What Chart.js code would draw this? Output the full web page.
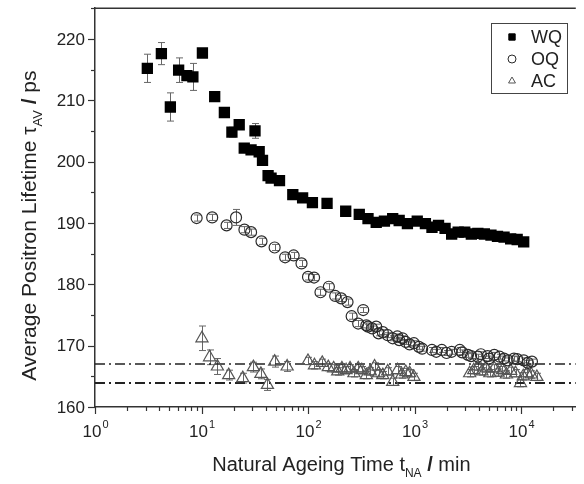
<!DOCTYPE html>
<html>
<head>
<meta charset="utf-8">
<title>Average positron lifetime vs natural ageing time</title>
<script src="https://cdn.jsdelivr.net/npm/chart.js@4.4.1/dist/chart.umd.min.js"></script>
<style>
  html, body { margin: 0; padding: 0; background: #fff; }
</style>
</head>
<body>
<canvas id="grafico" width="584" height="484"></canvas>
<script>
// Series names
const seriesNames = ['WQ', 'OQ', 'AC'];

// Water quenched (t in min, lifetime in ps)
const wqTime = [3.1, 4.2, 5.1, 6.1, 7.3, 8.3, 10.2, 13.3, 16.4, 19.3,
    22.6, 25.2, 29.2, 31.8, 34.8, 37.4, 42.2, 45, 54, 72,
    89, 110, 151, 226, 303, 366, 437, 522, 624, 718,
    858, 1061, 1266, 1459, 1681, 1937, 2233, 2571, 2963, 3418,
    3935, 4531, 5224, 6014, 6935, 7998, 9204, 10600];
const wqLifetime = [215.2, 217.6, 208.9, 214.9, 214.0, 213.8, 217.7, 210.6, 208.0, 204.8,
    206.0, 202.2, 201.9, 205.0, 201.6, 200.2, 197.7, 197.3, 196.9, 194.6,
    194.1, 193.3, 193.2, 191.9, 191.4, 190.7, 190.1, 190.3, 190.7, 190.4,
    189.9, 190.3, 189.9, 189.3, 189.6, 189.1, 188.2, 188.5, 188.5, 188.2,
    188.3, 188.2, 188.0, 187.8, 187.7, 187.4, 187.3, 186.9];
const wqError = [2.3, 1.8, 2.3, 2.0, 0, 2.2, 0, 0, 0, 0.8,
    0, 0, 0, 1.2, 0, 0, 0, 0, 0, 0,
    0, 0, 0, 0, 0, 0, 0, 0, 0, 0,
    0, 0, 0, 0, 0, 0, 0, 0, 0, 0,
    0, 0, 0, 0, 0, 0, 0, 0];

// Oil quenched
const oqTime = [9.0, 12.6, 17.2, 21.1, 25.3, 29.2, 36.6, 48.6, 61, 73.3,
    86.9, 100, 114, 131, 157, 180, 205, 235, 257, 296,
    330, 353, 366, 400, 437, 460, 504, 561, 624, 690,
    718, 771, 828, 900, 988, 1100, 1180, 1459, 1600, 1805,
    2000, 2233, 2663, 2800, 3177, 3400, 3935, 4200, 4864, 5000,
    5610, 6300, 6935, 7500, 8590, 9200, 10600, 11600, 12670];
const oqLifetime = [190.8, 190.9, 189.6, 190.9, 188.9, 188.5, 187.0, 186.0, 184.4, 184.7,
    183.4, 181.2, 181.1, 178.7, 179.6, 178.1, 177.7, 177.1, 174.8, 173.6,
    175.8, 173.3, 173.1, 172.8, 173.1, 172.0, 172.2, 171.7, 171.2, 171.5,
    170.9, 171.2, 170.6, 170.2, 170.4, 169.8, 169.5, 169.3, 169.0, 169.3,
    168.8, 169.0, 169.3, 168.9, 168.5, 168.3, 168.2, 168.6, 168.3, 167.9,
    168.5, 168.2, 167.9, 167.6, 167.9, 167.8, 167.6, 167.2, 167.4];
const oqError = [0.5, 0.5, 0.5, 1.3, 0.5, 0.5, 0.5, 0.5, 0.5, 0.5,
    0.5, 0.5, 0.5, 0.5, 0.5, 0.5, 0.5, 0.5, 0.5, 0.5,
    0.4, 0.4, 0.4, 0.4, 0.4, 0.4, 0.4, 0.4, 0.4, 0.4,
    0.4, 0.4, 0.4, 0.4, 0.4, 0.4, 0.4, 0.4, 0.4, 0.4,
    0.4, 0.4, 0.4, 0.4, 0.4, 0.4, 0.4, 0.4, 0.4, 0.4,
    0.4, 0.4, 0.4, 0.4, 0.4, 0.4, 0.4, 0.4, 0.4];

// Air cooled
const acTime = [10.1, 11.9, 14.1, 18.0, 24.4, 30.7, 36.1, 41.6, 48.6, 63.7,
    100, 115, 136, 155, 174, 190, 208, 228, 248, 270,
    296, 320, 353, 385, 422, 460, 504, 560, 624, 693,
    760, 828, 900, 988, 3296, 3600, 3935, 4300, 4700, 5100,
    5610, 6100, 6700, 7300, 8000, 8900, 9890, 10500, 11400, 12500,
    14100];
const acLifetime = [171.2, 168.1, 166.6, 165.2, 164.7, 166.5, 165.4, 163.6, 167.4, 166.6,
    167.5, 166.8, 167.2, 166.5, 166.3, 165.8, 166.3, 166.0, 166.3, 165.5,
    166.3, 166.0, 165.2, 165.8, 166.6, 165.5, 165.2, 165.8, 164.1, 166.0,
    165.3, 165.7, 165.5, 164.9, 165.5, 166.0, 166.6, 165.8, 166.3, 165.5,
    166.3, 165.6, 166.0, 165.3, 165.9, 165.5, 163.9, 165.0, 165.5, 165.3,
    164.9];
const acError = [2.0, 1.2, 1.3, 0.8, 0.8, 0.8, 0.8, 0.9, 0.9, 0.8,
    0.6, 0.6, 0.6, 0.6, 0.6, 0.6, 0.6, 0.6, 0.6, 0.6,
    0.6, 0.6, 0.6, 0.6, 0.6, 0.6, 0.6, 0.6, 0.6, 0.6,
    0.6, 0.6, 0.6, 0.6, 0.6, 0.6, 0.6, 0.6, 0.6, 0.6,
    0.6, 0.6, 0.6, 0.6, 0.6, 0.6, 0.6, 0.6, 0.6, 0.6,
    0.6];

// Horizontal reference levels (dash-dot)
const refLevels = [167.0, 163.9];

// Axes
const yTicks = [160, 170, 180, 190, 200, 210, 220];
const xDecades = [0, 1, 2, 3, 4];
const X_MIN = 1;
const X_MAX = 32700;
const Y_MIN = 160;
const Y_MAX = 225;

const FONT = '"Liberation Sans", Arial, Helvetica, sans-serif';
const TEXT = '#222';

function pares(xs, ys) {
    return xs.map(function(x, i) { return { x: x, y: ys[i] }; });
}

function desenharErros(chart, xs, ys, errs) {
    const ctx = chart.ctx;
    const sx = chart.scales.x, sy = chart.scales.y;
    ctx.save();
    ctx.strokeStyle = '#666';
    ctx.lineWidth = 1;
    for (let i = 0; i < xs.length; i++) {
        if (!errs[i]) continue;
        const px = Math.round(sx.getPixelForValue(xs[i])) + 0.5;
        const top = sy.getPixelForValue(ys[i] + errs[i]);
        const bot = sy.getPixelForValue(ys[i] - errs[i]);
        ctx.beginPath();
        ctx.moveTo(px, top); ctx.lineTo(px, bot);
        ctx.moveTo(px - 3.5, top); ctx.lineTo(px + 3.5, top);
        ctx.moveTo(px - 3.5, bot); ctx.lineTo(px + 3.5, bot);
        ctx.stroke();
    }
    ctx.restore();
}

// text with subscripts: parts = [{t, sub, bold}]
function larguraRica(ctx, parts, size) {
    let w = 0;
    parts.forEach(function(p) {
        ctx.font = (p.bold ? 'bold ' : '') + (p.sub ? Math.round(size * 0.62) : size) + 'px ' + FONT;
        w += ctx.measureText(p.t).width;
    });
    return w;
}

function textoRico(ctx, parts, x, y, size) {
    let cx = x - larguraRica(ctx, parts, size) / 2;
    ctx.textAlign = 'left';
    ctx.textBaseline = 'alphabetic';
    parts.forEach(function(p) {
        ctx.font = (p.bold ? 'bold ' : '') + (p.sub ? Math.round(size * 0.62) : size) + 'px ' + FONT;
        ctx.fillText(p.t, cx, y + (p.sub ? size * 0.28 : 0));
        cx += ctx.measureText(p.t).width;
    });
}

const decoracao = {
    id: 'decoracao',
    beforeDatasetsDraw(chart) {
        const area = chart.chartArea;
        chart.ctx.save();
        chart.ctx.beginPath();
        chart.ctx.rect(area.left, area.top, area.right - area.left, area.bottom - area.top);
        chart.ctx.clip();
        desenharErros(chart, wqTime, wqLifetime, wqError);
        desenharErros(chart, oqTime, oqLifetime, oqError);
        desenharErros(chart, acTime, acLifetime, acError);
        chart.ctx.restore();
    },
    afterDraw(chart) {
        const ctx = chart.ctx;
        const area = chart.chartArea;
        const sx = chart.scales.x, sy = chart.scales.y;
        ctx.save();
        ctx.strokeStyle = '#333';
        ctx.fillStyle = TEXT;

        // top frame line
        ctx.lineWidth = 1.5;
        ctx.beginPath();
        ctx.moveTo(area.left, area.top);
        ctx.lineTo(area.right, area.top);
        ctx.stroke();

        // y ticks (major every 10, minor every 5)
        ctx.lineWidth = 1.2;
        for (let v = Y_MIN; v <= Y_MAX; v += 5) {
            const py = Math.round(sy.getPixelForValue(v)) + 0.5;
            const major = yTicks.indexOf(v) >= 0;
            ctx.beginPath();
            ctx.moveTo(area.left, py);
            ctx.lineTo(area.left - (major ? 7 : 4), py);
            ctx.stroke();
        }
        ctx.font = '17px ' + FONT;
        ctx.textAlign = 'right';
        ctx.textBaseline = 'middle';
        yTicks.forEach(function(v) {
            ctx.fillText(String(v), area.left - 10, sy.getPixelForValue(v) + 1);
        });

        // x ticks (log)
        for (let d = 0; d <= 5; d++) {
            for (let k = 1; k <= 9; k++) {
                const val = k * Math.pow(10, d);
                if (val < X_MIN || val > X_MAX) continue;
                const px = Math.round(sx.getPixelForValue(val)) + 0.5;
                ctx.beginPath();
                ctx.moveTo(px, area.bottom);
                ctx.lineTo(px, area.bottom + (k === 1 ? 7 : 4));
                ctx.stroke();
            }
        }
        xDecades.forEach(function(d) {
            const px = sx.getPixelForValue(Math.pow(10, d));
            ctx.font = '17px ' + FONT;
            const w1 = ctx.measureText('10').width;
            ctx.font = '11px ' + FONT;
            const w2 = ctx.measureText(String(d)).width;
            const x0 = px - (w1 + w2) / 2;
            ctx.textAlign = 'left';
            ctx.textBaseline = 'alphabetic';
            ctx.font = '17px ' + FONT;
            ctx.fillText('10', x0, area.bottom + 30);
            ctx.font = '11px ' + FONT;
            ctx.fillText(String(d), x0 + w1 + 1, area.bottom + 21);
        });

        // axis titles
        textoRico(ctx, [
            { t: 'Natural Ageing Time t' },
            { t: 'NA', sub: true },
            { t: ' / ', bold: true },
            { t: 'min' }
        ], (area.left + area.right) / 2 + 6, area.bottom + 64, 20);

        ctx.save();
        ctx.translate(36, (area.top + area.bottom) / 2 + 18);
        ctx.rotate(-Math.PI / 2);
        textoRico(ctx, [
            { t: 'Average Positron Lifetime \u03C4' },
            { t: 'AV', sub: true },
            { t: ' / ', bold: true },
            { t: 'ps' }
        ], 0, 0, 21);
        ctx.restore();

        // legend box
        const lx = 491, ly = 23, lw = 76, lh = 70;
        ctx.lineWidth = 1;
        ctx.strokeStyle = '#444';
        ctx.strokeRect(lx + 0.5, ly + 0.5, lw, lh);
        const rows = [37, 59, 81];
        chart.data.datasets.slice(0, 3).forEach(function(ds, i) {
            ctx.fillStyle = ds.backgroundColor;
            ctx.strokeStyle = ds.borderColor;
            ctx.lineWidth = 1;
            Chart.helpers.drawPoint(ctx, {
                pointStyle: ds.pointStyle,
                radius: ds.pointStyle === 'rect' ? 4.5 : 4,
                borderWidth: 1,
                rotation: 0
            }, lx + 21, rows[i]);
            ctx.fillStyle = TEXT;
            ctx.font = '18px ' + FONT;
            ctx.textAlign = 'left';
            ctx.textBaseline = 'middle';
            ctx.fillText(seriesNames[i], lx + 40, rows[i] + 1);
        });
        ctx.restore();
    }
};

const linhaRef = function(level, width) {
    return {
        type: 'scatter',
        label: 'ref ' + level,
        data: [{ x: X_MIN, y: level }, { x: X_MAX, y: level }],
        showLine: true,
        borderColor: '#222',
        borderWidth: width,
        borderDash: [10, 4, 2, 4],
        pointRadius: 0,
        order: 5
    };
};

new Chart(document.getElementById('grafico'), {
    type: 'scatter',
    data: {
        datasets: [
            {
                label: seriesNames[0],
                data: pares(wqTime, wqLifetime),
                pointStyle: 'rect',
                pointRadius: 8,
                backgroundColor: '#000',
                borderColor: '#000',
                borderWidth: 0,
                order: 1
            },
            {
                label: seriesNames[1],
                data: pares(oqTime, oqLifetime),
                pointStyle: 'circle',
                pointRadius: 5.5,
                backgroundColor: 'rgba(255,255,255,0)',
                borderColor: '#2a2a2a',
                borderWidth: 1.2,
                order: 2
            },
            {
                label: seriesNames[2],
                data: pares(acTime, acLifetime),
                pointStyle: 'triangle',
                pointRadius: 7,
                backgroundColor: 'rgba(255,255,255,0)',
                borderColor: '#555',
                borderWidth: 1.2,
                order: 3
            },
            linhaRef(refLevels[0], 1.4),
            linhaRef(refLevels[1], 2)
        ]
    },
    options: {
        responsive: false,
        animation: false,
        devicePixelRatio: 1,
        layout: { padding: { top: 7, right: 0, left: 0, bottom: 0 } },
        plugins: {
            legend: { display: false },
            tooltip: { enabled: false }
        },
        scales: {
            x: {
                type: 'logarithmic',
                min: X_MIN,
                max: X_MAX,
                grid: { display: false },
                border: { display: true, color: '#333', width: 1.5 },
                ticks: { display: false },
                afterFit: function(scale) { scale.height = 77; }
            },
            y: {
                type: 'linear',
                min: Y_MIN,
                max: Y_MAX,
                grid: { display: false },
                border: { display: true, color: '#333', width: 1.5 },
                ticks: { display: false },
                afterFit: function(scale) { scale.width = 95; }
            }
        }
    },
    plugins: [decoracao]
});
</script>
</body>
</html>
